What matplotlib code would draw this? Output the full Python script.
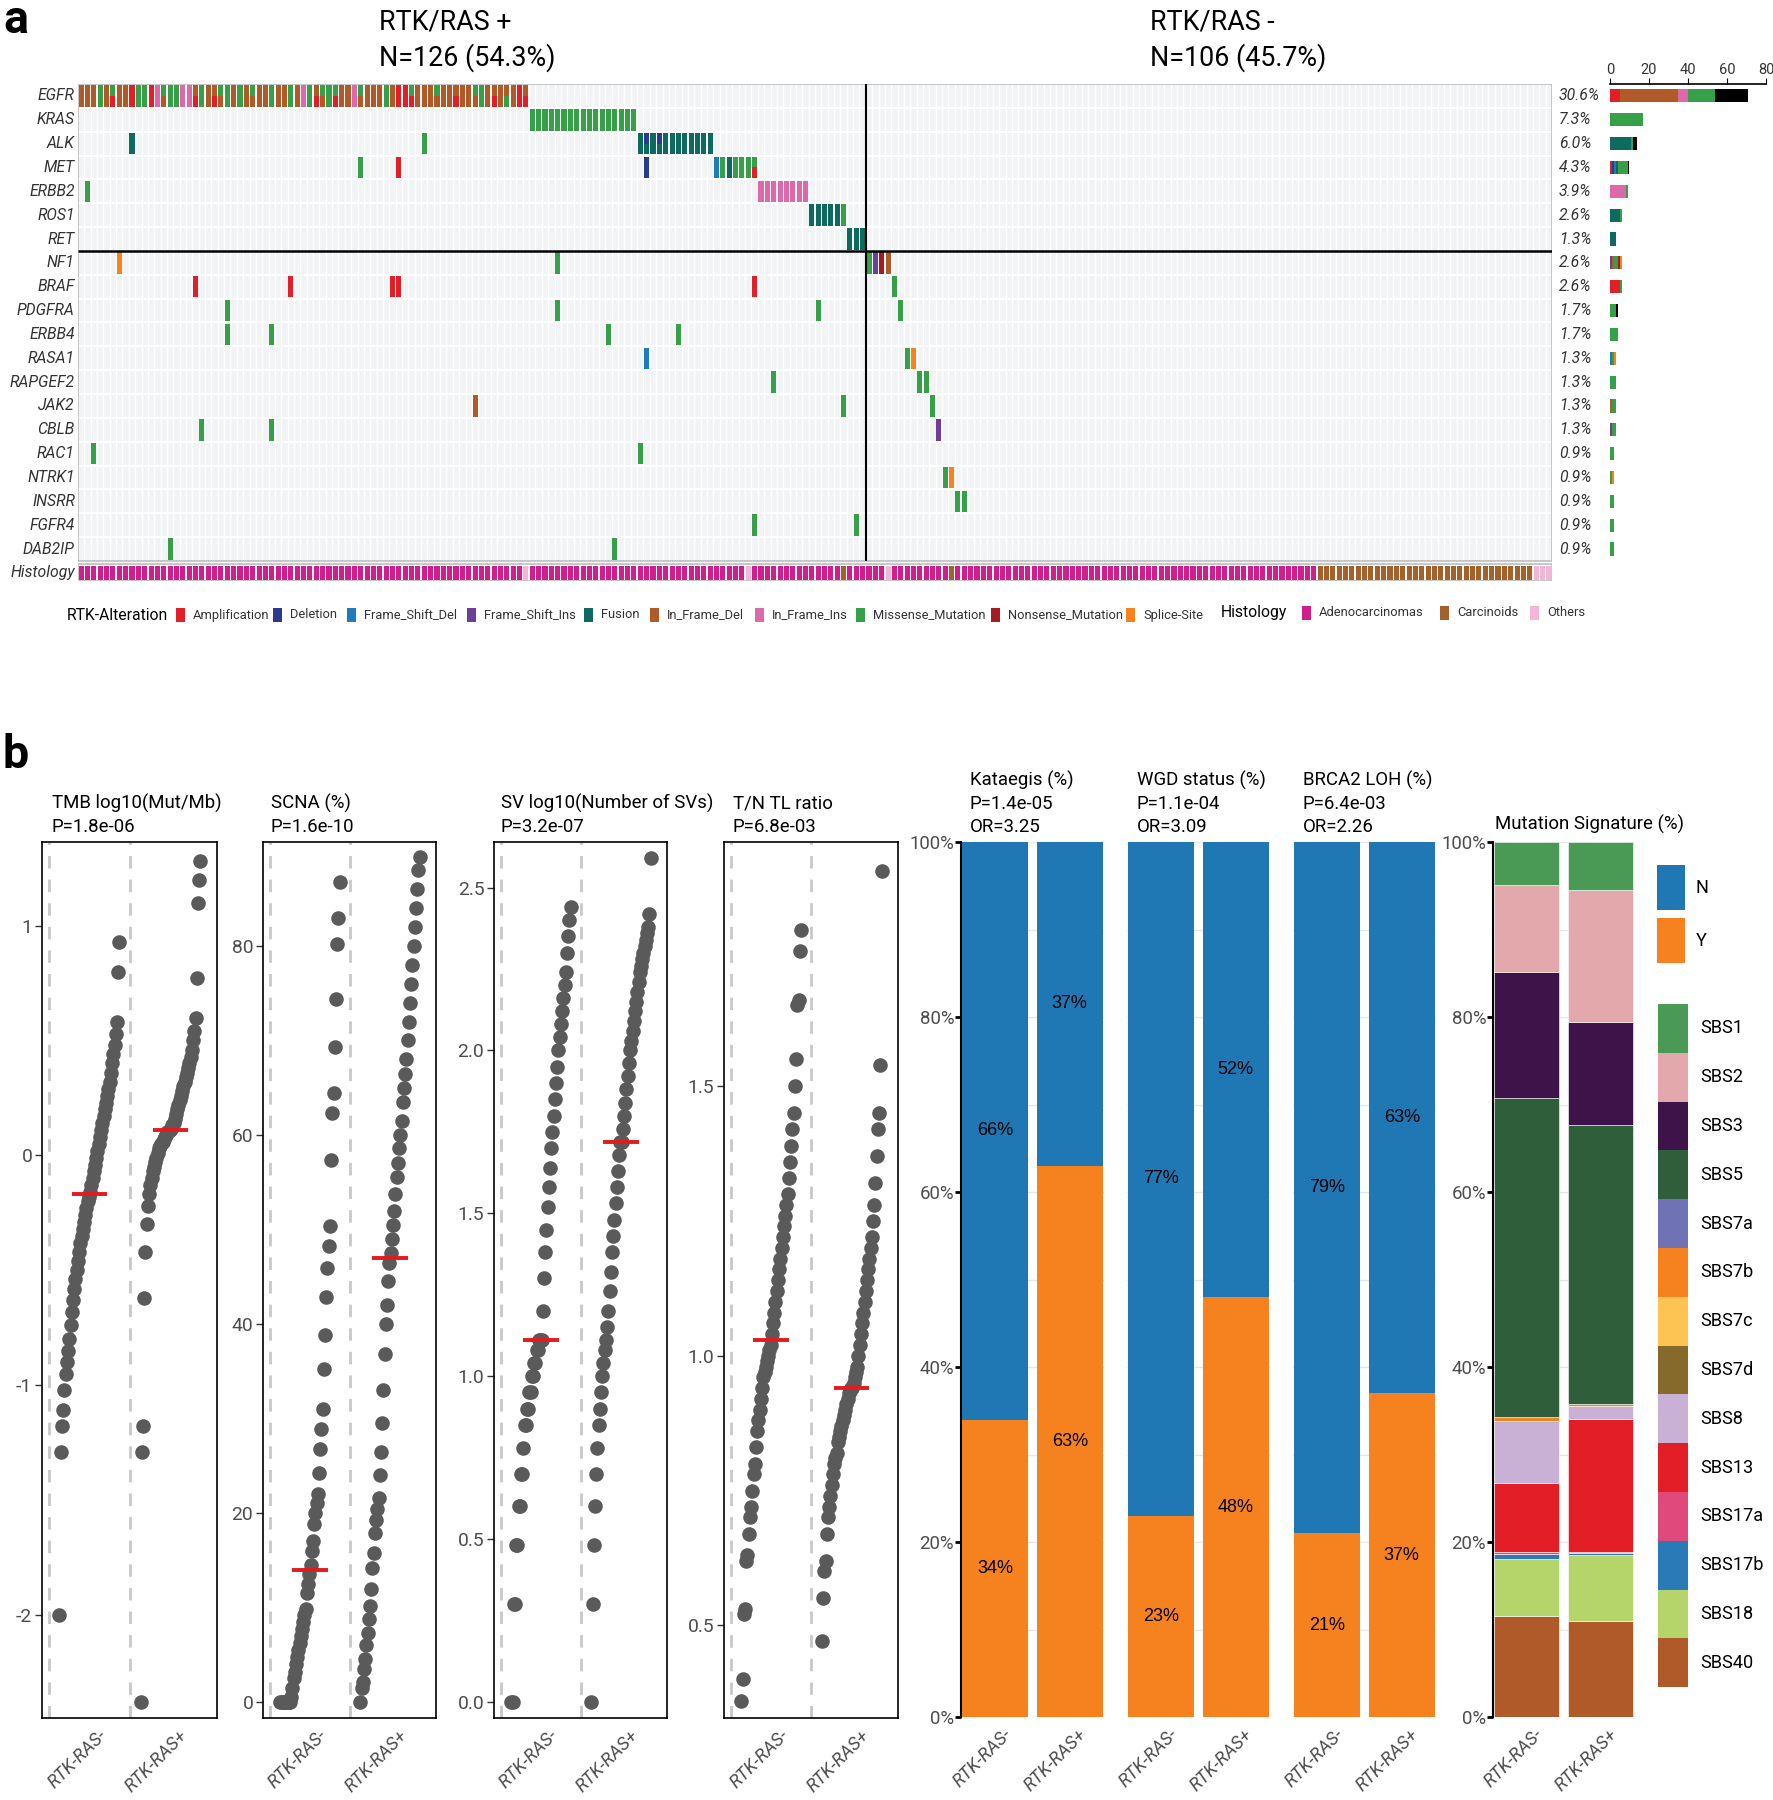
import numpy as np
import matplotlib
matplotlib.use('Agg')
import matplotlib.pyplot as plt
from matplotlib import font_manager
from matplotlib.patches import Rectangle

# pick a narrow font if one is around, else Roboto a bit smaller
installed = {f.name for f in font_manager.fontManager.ttflist}
if 'Liberation Sans Narrow' in installed:
    FONT, K = 'Liberation Sans Narrow', 1.0
else:
    FONT, K = 'Roboto', 0.84
plt.rcParams['font.family'] = [FONT, 'DejaVu Sans']

# ---------------- panel a data ----------------
genes = ['EGFR', 'KRAS', 'ALK', 'MET', 'ERBB2', 'ROS1', 'RET', 'NF1', 'BRAF', 'PDGFRA',
         'ERBB4', 'RASA1', 'RAPGEF2', 'JAK2', 'CBLB', 'RAC1', 'NTRK1', 'INSRR', 'FGFR4', 'DAB2IP']
n_samples = 232
n_pos_cols = 124
group_n = [126, 106]

alt_codes = ['amp', 'del', 'fsd', 'fsi', 'fus', 'ifd', 'ifi', 'mis', 'non', 'spl']
alt_labels = ['Amplification', 'Deletion', 'Frame_Shift_Del', 'Frame_Shift_Ins', 'Fusion',
              'In_Frame_Del', 'In_Frame_Ins', 'Missense_Mutation', 'Nonsense_Mutation', 'Splice-Site']
alt_colors = ['#E41E26', '#2B3A8F', '#1F7BBF', '#6E3E98', '#0E6A5E',
              '#B15A28', '#DD68AA', '#35A047', '#A31D22', '#F7821E']
multi_color = '#000000'

# EGFR, columns 0..70 ("top/bottom" = two alterations in one sample)
egfr_codes = ['ifd', 'ifd', 'ifd', 'mis', 'ifd', 'mis/amp', 'ifd', 'ifd', 'amp', 'mis',
              'mis', 'amp', 'ifi', 'mis/ifd', 'mis', 'mis', 'ifi', 'ifi', 'ifd/amp', 'mis',
              'ifd', 'ifd/amp', 'mis/ifd', 'mis', 'ifd', 'mis', 'ifd', 'mis/ifd', 'ifd', 'ifd',
              'mis', 'ifd', 'ifd', 'mis', 'ifd', 'ifi', 'mis', 'ifd/amp', 'mis/ifd', 'mis',
              'mis/amp', 'ifd', 'ifd', 'ifi', 'mis/ifd', 'ifd', 'ifd', 'ifd', 'mis', 'ifd',
              'amp', 'amp', 'mis/amp', 'ifd', 'ifd', 'ifd', 'mis/ifd', 'ifd', 'ifd', 'ifd/amp',
              'ifd', 'ifd', 'mis/ifd', 'mis', 'ifd', 'ifd/amp', 'ifd', 'ifd/mis', 'ifd', 'amp',
              'ifd/amp']
egfr = list(enumerate(egfr_codes))
kras = [(c, 'mis') for c in range(71, 88)]
alk = [(8, 'fus'), (54, 'mis'), (88, 'fus'), (89, 'del/fus'), (90, 'fus'), (91, 'del/fus')] + \
      [(c, 'fus') for c in range(92, 100)]
met = [(44, 'mis'), (50, 'amp'), (89, 'del'), (100, 'fsd'), (101, 'mis'), (102, 'fus'),
       (103, 'mis'), (104, 'mis'), (105, 'mis'), (106, 'mis/amp')]
erbb2 = [(1, 'mis')] + [(c, 'ifi') for c in range(107, 115)]
ros1 = [(c, 'fus') for c in range(115, 120)] + [(120, 'mis')]
ret = [(121, 'fus'), (122, 'fus'), (123, 'fus')]
nf1 = [(6, 'spl'), (75, 'mis'), (124, 'mis'), (125, 'fsi'), (126, 'non'), (127, 'ifd')]
braf = [(18, 'amp'), (33, 'amp'), (49, 'amp'), (50, 'amp'), (106, 'amp'), (128, 'mis')]
pdgfra = [(23, 'mis'), (75, 'mis'), (116, 'mis'), (129, 'mis/mis')]
erbb4 = [(23, 'mis'), (30, 'mis'), (83, 'mis'), (94, 'mis')]
rasa1 = [(89, 'fsd'), (130, 'mis'), (131, 'spl')]
rapgef2 = [(109, 'mis'), (132, 'mis'), (133, 'mis')]
jak2 = [(62, 'ifd'), (120, 'mis'), (134, 'mis')]
cblb = [(19, 'mis'), (30, 'mis'), (135, 'fsi')]
rac1 = [(2, 'mis'), (88, 'mis')]
ntrk1 = [(136, 'mis'), (137, 'spl')]
insrr = [(138, 'mis'), (139, 'mis')]
fgfr4 = [(106, 'mis'), (122, 'mis')]
dab2ip = [(14, 'mis'), (84, 'mis')]
rows = [egfr, kras, alk, met, erbb2, ros1, ret, nf1, braf, pdgfra,
        erbb4, rasa1, rapgef2, jak2, cblb, rac1, ntrk1, insrr, fgfr4, dab2ip]

hist_labels = ['Adenocarcinomas', 'Carcinoids', 'Others']
hist_colors = ['#D31D8E', '#A6612A', '#F4B6D6']
others_cols = [70, 105, 127, 229, 230, 231]
carcinoid_cols = [120, 137] + list(range(195, 229))

# ---------------- panel b data ----------------
groups = ['RTK-RAS-', 'RTK-RAS+']
tmb_neg = [-2.0, -1.29, -1.18, -1.11, -1.02, -0.95, -0.9, -0.85, -0.8, -0.74, -0.68, -0.63, -0.58,
           -0.54, -0.5, -0.46, -0.42, -0.38, -0.35, -0.32, -0.29, -0.26, -0.23, -0.2, -0.18,
           -0.16, -0.13, -0.1, -0.07, -0.04, -0.01, 0.02, 0.05, 0.08, 0.11, 0.14, 0.17, 0.2,
           0.23, 0.26, 0.29, 0.32, 0.36, 0.4, 0.44, 0.48, 0.53, 0.58, 0.8, 0.93]
tmb_pos = [-2.38, -1.29, -1.18, -0.62, -0.42, -0.3, -0.22, -0.17, -0.13, -0.1, -0.07, -0.05, -0.03,
           -0.01, 0.01, 0.03, 0.04, 0.05, 0.06, 0.07, 0.08, 0.09, 0.1, 0.105, 0.11,
           0.115, 0.13, 0.14, 0.16, 0.18, 0.2, 0.22, 0.24, 0.26, 0.28, 0.3, 0.32, 0.34, 0.36,
           0.38, 0.4, 0.43, 0.46, 0.5, 0.54, 0.6, 0.77, 1.1, 1.2, 1.28]
scna_neg = [0.0, 0.0, 0.0, 0.0, 0.0, 0.0, 0.0, 0.0, 0.0, 0.5, 1.5, 2.5, 3.2, 4.0, 4.8, 5.5, 6.2,
            7.0, 7.7, 8.5, 9.2, 9.8, 11.5, 12.5, 13.5,
            14.5, 16.0, 17.0, 18.8, 20.0, 21.0, 22.0, 24.2, 26.8, 28.9, 31.0, 35.2, 38.8, 42.8,
            45.9, 48.3, 50.4, 57.4, 62.3, 64.4, 69.3, 74.4, 80.2, 83.0, 86.8]
scna_pos = [0.0, 1.5, 2.1, 3.5, 4.5, 6.0, 7.3, 8.8, 10.2, 12.0, 14.2, 15.8, 17.9, 19.3, 20.4,
            21.6, 24.0, 26.5, 29.5, 33.0, 36.8, 40.0, 42.0, 44.5, 46.5,
            47.5, 49.0, 50.5, 52.0, 53.8, 55.5, 57.0, 58.6, 60.0, 61.5, 63.5, 65.0, 66.5, 68.0,
            70.0, 72.0, 74.0, 76.0, 78.0, 80.0, 82.0, 84.0, 86.0, 88.0, 89.4]
sv_neg = [0.0, 0.0, 0.3, 0.3, 0.48, 0.48, 0.6, 0.6, 0.7, 0.7, 0.78, 0.85, 0.85, 0.9, 0.9, 0.95,
          0.95, 1.0, 1.0, 1.04, 1.04, 1.08, 1.08, 1.11, 1.11,
          1.11, 1.2, 1.3, 1.38, 1.45, 1.52, 1.58, 1.64, 1.7, 1.75, 1.8, 1.85, 1.9, 1.95, 2.0,
          2.04, 2.08, 2.12, 2.16, 2.2, 2.24, 2.3, 2.35, 2.4, 2.44]
sv_pos = [0.0, 0.3, 0.48, 0.6, 0.7, 0.78, 0.85, 0.9, 0.95, 1.0, 1.04, 1.08, 1.11, 1.15, 1.2,
          1.26, 1.32, 1.38, 1.43, 1.48, 1.53, 1.58, 1.63, 1.68, 1.72,
          1.72, 1.76, 1.8, 1.84, 1.88, 1.92, 1.96, 2.0, 2.03, 2.06, 2.09, 2.12, 2.15, 2.18,
          2.21, 2.24, 2.26, 2.28, 2.3, 2.32, 2.34, 2.36, 2.38, 2.42, 2.59]
tl_neg = [0.36, 0.4, 0.52, 0.53, 0.62, 0.63, 0.67, 0.7, 0.72, 0.75, 0.78, 0.8, 0.83, 0.86, 0.88,
          0.9, 0.92, 0.94, 0.96, 0.97, 0.98, 0.99, 1.0, 1.01, 1.02,
          1.04, 1.06, 1.08, 1.1, 1.12, 1.14, 1.16, 1.18, 1.2, 1.22, 1.24, 1.26, 1.28, 1.3, 1.33,
          1.36, 1.39, 1.42, 1.45, 1.5, 1.55, 1.65, 1.66, 1.75, 1.79]
tl_pos = [0.47, 0.55, 0.6, 0.62, 0.67, 0.7, 0.72, 0.74, 0.76, 0.78, 0.8, 0.81, 0.82, 0.84, 0.85,
          0.86, 0.87, 0.88, 0.89, 0.9, 0.91, 0.92, 0.93, 0.935, 0.94,
          0.94, 0.95, 0.96, 0.97, 0.98, 1.0, 1.02, 1.04, 1.06, 1.08, 1.1, 1.12, 1.14, 1.16, 1.18,
          1.2, 1.22, 1.25, 1.28, 1.32, 1.37, 1.42, 1.45, 1.54, 1.9]

strip_titles = ['TMB log10(Mut/Mb)', 'SCNA (%)', 'SV log10(Number of SVs)', 'T/N TL ratio']
strip_pvals = ['P=1.8e-06', 'P=1.6e-10', 'P=3.2e-07', 'P=6.8e-03']

bar_titles = ['Kataegis (%)', 'WGD status (%)', 'BRCA2 LOH (%)']
bar_pvals = ['P=1.4e-05', 'P=1.1e-04', 'P=6.4e-03']
bar_ors = ['OR=3.25', 'OR=3.09', 'OR=2.26']
yes_pct = [[34, 63], [23, 48], [21, 37]]
no_pct = [[66, 37], [77, 52], [79, 63]]
ny_colors = {'N': '#1F77B4', 'Y': '#F5821F'}

sig_names = ['SBS1', 'SBS2', 'SBS3', 'SBS5', 'SBS7a', 'SBS7b', 'SBS7c', 'SBS7d', 'SBS8',
             'SBS13', 'SBS17a', 'SBS17b', 'SBS18', 'SBS40']
sig_colors = ['#4A9A56', '#E3A8AB', '#3E1349', '#2F5E3B', '#6F72B4', '#F5821F', '#FDC453',
              '#856A2B', '#C9B1D6', '#E31E26', '#E0497C', '#2A7AB8', '#B5D56A', '#B05A2A']
sig_neg = [4.9, 9.9, 14.4, 36.5, 0.0, 0.5, 0.0, 0.0, 7.1, 7.8, 0.3, 0.5, 6.5, 11.6]
sig_pos = [5.5, 15.1, 11.7, 31.9, 0.0, 0.2, 0.0, 0.0, 1.5, 15.2, 0.1, 0.3, 7.5, 11.0]

# ---------------- figure ----------------
W, H = 1774, 1800
fig = plt.figure(figsize=(W / 100, H / 100), dpi=100)


def axes_px(x0, y0, x1, y1):
    return fig.add_axes([x0 / W, 1 - y1 / H, (x1 - x0) / W, (y1 - y0) / H])


color_of = dict(zip(alt_codes, alt_colors))
TXT = '#333333'
GRAY = '#4D4D4D'
XLAB = 15.5 * K

# oncoprint
ax = axes_px(78, 84, 1552, 581)
ax.set_xlim(0, n_samples)
ax.set_ylim(20.84, 0)
ax.axis('off')
ax.add_patch(Rectangle((0, 0), n_samples, 20, fc='#F1F3F4', ec='none', zorder=0))
ax.vlines(np.arange(1, n_samples), 0, 20, color='white', lw=1, zorder=1)
ax.hlines(np.arange(1, 20), 0, n_samples, color='white', lw=1.5, zorder=1)
for r, cells in enumerate(rows):
    for col, code in cells:
        parts = code.split('/')
        h = 0.9 / len(parts)
        for j, p in enumerate(parts):
            ax.add_patch(Rectangle((col + 0.1, r + 0.05 + j * h), 0.8, h,
                                   fc=color_of[p], ec='none', zorder=2))
for col in range(n_samples):
    if col in others_cols:
        hc = hist_colors[2]
    elif col in carcinoid_cols:
        hc = hist_colors[1]
    else:
        hc = hist_colors[0]
    ax.add_patch(Rectangle((col + 0.1, 20.2), 0.8, 0.6, fc=hc, ec='none', zorder=2))
ax.add_patch(Rectangle((0, 0), n_samples, 20, fill=False, ec='#BDBDBD', lw=1.2, zorder=3))
ax.add_patch(Rectangle((0, 20.12), n_samples, 0.72, fill=False, ec='#BDBDBD', lw=1.2, zorder=3))
ax.hlines(7, 0, n_samples, color='black', lw=1.8, zorder=4)
ax.vlines(n_pos_cols, 0, 20, color='black', lw=1.5, zorder=4)

for r, (g, cells) in enumerate(zip(genes, rows)):
    ax.text(-0.5, r + 0.5, g, ha='right', va='center', fontsize=13.5 * K, style='italic', color=TXT)
    pct = 100 * len(cells) / n_samples
    ax.text(233.1, r + 0.5, f'{pct:.1f}%', ha='left', va='center', fontsize=13.5 * K,
            style='italic', color=TXT)
ax.text(-0.5, 20.5, 'Histology', ha='right', va='center', fontsize=13.5 * K, style='italic', color=TXT)

# side bars
ax2 = axes_px(1610, 84, 1766, 581)
ax2.set_xlim(0, 80)
ax2.set_ylim(20.84, 0)
stack_order = alt_codes + ['multi']
stack_colors = alt_colors + [multi_color]
for r, cells in enumerate(rows):
    counts = dict.fromkeys(stack_order, 0)
    for col, code in cells:
        counts['multi' if '/' in code else code] += 1
    left = 0
    for c, colr in zip(stack_order, stack_colors):
        if counts[c]:
            ax2.barh(r + 0.5, counts[c], left=left, height=0.55, color=colr, lw=0)
            left += counts[c]
for s in ['bottom', 'left', 'right']:
    ax2.spines[s].set_visible(False)
ax2.spines['top'].set_linewidth(1.2)
ax2.xaxis.tick_top()
ax2.set_xticks([0, 20, 40, 60, 80])
ax2.tick_params(axis='x', length=4, labelsize=12.5 * K, labelcolor=TXT, pad=1)
ax2.set_yticks([])

# ---------------- panel b: strips ----------------
strip_x = [(42, 217), (263, 436), (494, 667), (724, 898)]
strip_data = [(tmb_neg, tmb_pos), (scna_neg, scna_pos), (sv_neg, sv_pos), (tl_neg, tl_pos)]
strip_ylim = [(-2.449, 1.364), (-1.7, 91.0), (-0.05, 2.64), (0.328, 1.953)]
strip_ticks = [[-2, -1, 0, 1], [0, 20, 40, 60, 80], [0.0, 0.5, 1.0, 1.5, 2.0, 2.5], [0.5, 1.0, 1.5]]
strip_ticklabels = [['-2', '-1', '0', '1'], ['0', '20', '40', '60', '80'],
                    ['0.0', '0.5', '1.0', '1.5', '2.0', '2.5'], ['0.5', '1.0', '1.5']]

for (x0, x1), data, yl, yt, ytl in zip(strip_x, strip_data, strip_ylim, strip_ticks, strip_ticklabels):
    sa = axes_px(x0, 842, x1, 1718)
    for g, vals in enumerate(data):
        v = np.sort(np.array(vals))
        xs = g + np.linspace(0.13, 0.87, len(v))
        sa.scatter(xs, v, s=110, color='#5A5A5A', lw=0, zorder=3)
        m = np.median(v)
        sa.plot([g + 0.28, g + 0.72], [m, m], color='#E41A1C', lw=2.8, zorder=4,
                solid_capstyle='butt')
        sa.axvline(g, color='#C8C8C8', lw=2, ls=(0, (4.5, 4)), zorder=1)
    sa.set_xlim(-0.086, 2.074)
    sa.set_ylim(*yl)
    sa.set_yticks(yt, ytl)
    sa.set_xticks([0.6, 1.6], groups, rotation=45, ha='right', rotation_mode='anchor',
                  style='italic')
    sa.tick_params(axis='y', length=5, width=1, color='#333333', labelcolor=GRAY,
                   labelsize=16.5 * K, pad=2)
    sa.tick_params(axis='x', length=0, labelcolor=GRAY, labelsize=XLAB, pad=6)
    for s in sa.spines.values():
        s.set_linewidth(1.2)

# ---------------- panel b: proportion bars ----------------
bar_x = [(961, 1104), (1127, 1270), (1293, 1436)]
for i, (x0, x1) in enumerate(bar_x):
    ba = axes_px(x0, 842, x1, 1717)
    ba.bar([0, 1], yes_pct[i], width=0.89, color=ny_colors['Y'], lw=0, zorder=2)
    ba.bar([0, 1], no_pct[i], bottom=yes_pct[i], width=0.89, color=ny_colors['N'], lw=0, zorder=2)
    for j in range(2):
        ba.text(j, yes_pct[i][j] / 2, f'{yes_pct[i][j]}%', ha='center', va='center',
                fontsize=13, family='Liberation Sans', zorder=3)
        ba.text(j, yes_pct[i][j] + no_pct[i][j] / 2, f'{no_pct[i][j]}%', ha='center',
                va='center', fontsize=13, family='Liberation Sans', zorder=3)
    ba.set_xlim(-0.461, 1.461)
    ba.set_ylim(0, 100)
    ba.set_yticks([0, 20, 40, 60, 80, 100], ['0%', '20%', '40%', '60%', '80%', '100%'])
    ba.set_yticks(np.arange(10, 100, 20), minor=True)
    ba.yaxis.grid(True, which='both', color='#E6E6E6', lw=1, zorder=0)
    ba.set_axisbelow(True)
    ba.set_xticks([0.1, 1.1], groups, rotation=45, ha='right', rotation_mode='anchor',
                  style='italic')
    ba.tick_params(axis='x', length=0, labelcolor=GRAY, labelsize=XLAB, pad=6)
    ba.tick_params(axis='y', which='minor', length=0)
    for s in ['top', 'right', 'bottom']:
        ba.spines[s].set_visible(False)
    if i == 0:
        ba.spines['left'].set_linewidth(1.5)
        ba.tick_params(axis='y', which='major', length=4, width=2, color='black',
                       labelcolor=GRAY, labelsize=16 * K, pad=1)
    else:
        ba.spines['left'].set_visible(False)
        ba.tick_params(axis='y', which='major', length=0, labelleft=False)

# mutation signature
ma = axes_px(1493, 842, 1634, 1717)
for j, vals in enumerate([sig_neg, sig_pos]):
    bottom = 0
    for name, colr, v in zip(sig_names[::-1], sig_colors[::-1], vals[::-1]):
        if v > 0:
            ma.bar(j, v, bottom=bottom, width=0.884, color=colr, lw=0.4, ec='white', zorder=2)
        bottom += v
ma.set_xlim(-0.456, 1.456)
ma.set_ylim(0, 100)
ma.set_yticks([0, 20, 40, 60, 80, 100], ['0%', '20%', '40%', '60%', '80%', '100%'])
ma.set_yticks(np.arange(10, 100, 20), minor=True)
ma.yaxis.grid(True, which='both', color='#E6E6E6', lw=1, zorder=0)
ma.set_axisbelow(True)
ma.set_xticks([0.1, 1.1], groups, rotation=45, ha='right', rotation_mode='anchor', style='italic')
ma.tick_params(axis='x', length=0, labelcolor=GRAY, labelsize=XLAB, pad=6)
ma.tick_params(axis='y', which='minor', length=0)
ma.tick_params(axis='y', which='major', length=4, width=2, color='black', labelcolor=GRAY,
               labelsize=16 * K, pad=1)
for s in ['top', 'right', 'bottom']:
    ma.spines[s].set_visible(False)
ma.spines['left'].set_linewidth(1.5)

# ---------------- overlay: titles and legends ----------------
ov = axes_px(0, 0, W, H)
ov.set_xlim(0, W)
ov.set_ylim(H, 0)
ov.axis('off')

ov.text(3, 33, 'a', fontsize=40 * K, fontweight='bold', va='baseline')
ov.text(3, 768, 'b', fontsize=40 * K, fontweight='bold', va='baseline')
for x, lab, n in zip([379, 1150], ['RTK/RAS +', 'RTK/RAS -'], group_n):
    ov.text(x, 22, lab, fontsize=23 * K, va='center')
    ov.text(x, 58, f'N={n} ({100 * n / sum(group_n):.1f}%)', fontsize=23 * K, va='center')

# alteration legend
ov.text(67, 615, 'RTK-Alteration', fontsize=13.5 * K, va='center')
leg_x = [176, 273, 347, 467, 584, 650, 755, 856, 991, 1126]
for x, lab, colr in zip(leg_x, alt_labels, alt_colors):
    ov.add_patch(Rectangle((x, 608), 9, 14, fc=colr, ec='none'))
    ov.text(x + 17, 615, lab, fontsize=11 * K, va='center', color=TXT)
ov.text(1221, 613, 'Histology', fontsize=13.5 * K, va='center')
for x, lab, colr in zip([1302, 1440, 1530], hist_labels, hist_colors):
    ov.add_patch(Rectangle((x, 606), 9, 14, fc=colr, ec='none'))
    ov.text(x + 17, 613, lab, fontsize=11 * K, va='center', color=TXT)

# panel b titles
for x, t, p in zip([52, 271, 501, 733], strip_titles, strip_pvals):
    ov.text(x, 809, t, fontsize=16 * K, va='baseline')
    ov.text(x, 832, p, fontsize=16 * K, va='baseline')
for x, t, p, o in zip([970, 1137, 1303], bar_titles, bar_pvals, bar_ors):
    ov.text(x, 786, t, fontsize=16 * K, va='baseline')
    ov.text(x, 809, p, fontsize=16 * K, va='baseline')
    ov.text(x, 832, o, fontsize=16 * K, va='baseline')
ov.text(1495, 830, 'Mutation Signature (%)', fontsize=16 * K, va='baseline')

# N / Y legend
for lab, y in [('N', 865), ('Y', 918)]:
    ov.add_patch(Rectangle((1657, y), 28, 45, fc=ny_colors[lab], ec='none'))
    ov.text(1696, y + 23, lab, fontsize=15.5 * K, va='center')
# signature legend
for i, (name, colr) in enumerate(zip(sig_names, sig_colors)):
    y = 1004 + i * 48.8
    ov.add_patch(Rectangle((1658, y), 30, 48.8, fc=colr, ec='none'))
    ov.text(1700, y + 24.4, name, fontsize=15.5 * K, va='center')

fig.savefig('out.png', dpi=100, facecolor='white')
